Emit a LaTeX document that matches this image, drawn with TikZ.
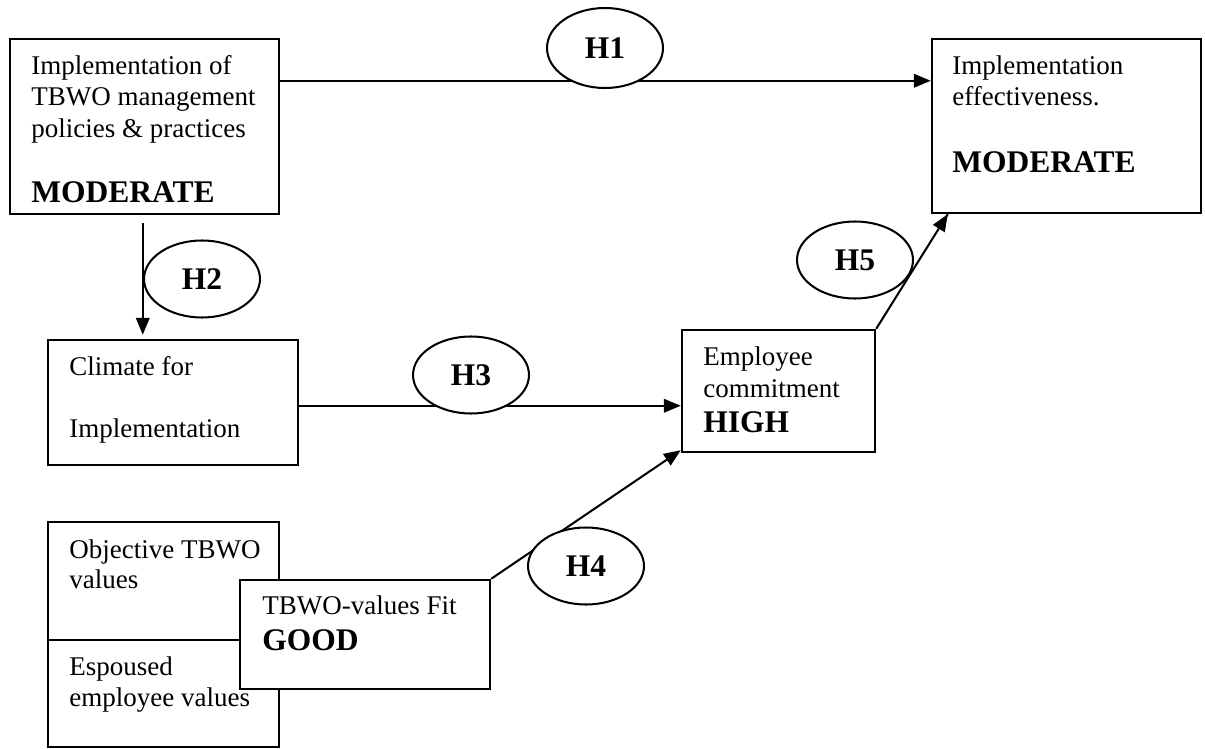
\documentclass[tikz,border=0pt]{standalone}
\usepackage{fontspec}
\setmainfont{Liberation Serif}
\usetikzlibrary{arrows.meta,shapes.geometric,fit,calc}
\newlength\pxu
\setlength\pxu{0.4444pt}
\begin{document}
\begin{tikzpicture}[x=0.4444pt,y=-0.4444pt,
  box/.style={draw, line width=1.1pt, fill=white, inner sep=0pt},
  txt/.style={anchor=base west, inner sep=0pt,
    font=\fontsize{12pt}{14pt}\selectfont},
  big/.style={anchor=base west, inner sep=0pt,
    font=\fontsize{14pt}{16pt}\selectfont\bfseries},
  hyp/.style={ellipse, draw, line width=0.9pt, fill=white, inner sep=0pt,
    minimum width=116*\pxu, minimum height=77*\pxu,
    font=\fontsize{14pt}{16pt}\selectfont\bfseries},
  arr/.style={line width=0.9pt, -{Triangle[length=7.5pt,width=6pt]}},
  link/.style={line width=0.9pt}]
\useasboundingbox (0,0) rectangle (1205,749);

% boxes
\node[box, fit={(10,39) (279,214)}] (policy) {};
\node[box, fit={(932,39) (1201,213)}] (effect) {};
\node[box, fit={(48,340) (298,465)}] (climate) {};
\node[box, fit={(682,330) (875,452)}] (commit) {};
\node[box, fit={(48,522) (279,640)}] (objective) {};
\node[box, fit={(48,640) (279,747)}] (espoused) {};
\node[box, fit={(240,580) (490,689)}] (fitbox) {};

% box texts, one node per line
\node[txt] (policyA) at (31,74) {Implementation of};
\node[txt] (policyB) at (31,105.5) {TBWO management};
\node[txt] (policyC) at (31,137) {policies \& practices};
\node[big] (policyL) at (31,202) {MODERATE};
\node[txt] (effectA) at (952,74) {Implementation};
\node[txt] (effectB) at (952,105.5) {effectiveness.};
\node[big] (effectL) at (952,172) {MODERATE};
\node[txt] (climateA) at (69,375) {Climate for};
\node[txt] (climateB) at (69,437) {Implementation};
\node[txt] (commitA) at (703,365) {Employee};
\node[txt] (commitB) at (703,397) {commitment};
\node[big] (commitL) at (703,432) {HIGH};
\node[txt] (objectiveA) at (69,558) {Objective TBWO};
\node[txt] (objectiveB) at (69,588) {values};
\node[txt] (espousedA) at (69,675) {Espoused};
\node[txt] (espousedB) at (69,706) {employee values};
\node[txt] (fitA) at (262,614) {TBWO-values Fit};
\node[big] (fitL) at (262,650) {GOOD};

% connectors
\draw[arr] ($(policy.north east)+(0,43)$) -- ($(effect.north west)+(0,43)$);
\draw[arr] ($(policy.south west)+(134,8)$) -- ($(climate.north west)+(96,-4)$);
\draw[arr] ($(climate.north east)+(0,67)$) -- ($(commit.north west)+(0,77)$);
\draw[arr] (fitbox.north east) -- ($(commit.south west)+(0,-3)$);
\draw[link] (commit.north east) -- ($(effect.south west)+(17,0)$);
\draw[arr] ($(commit.north east)!0.92!($(effect.south west)+(17,0)$)$) -- ($(effect.south west)+(17,0)$);

% hypothesis labels
\node[hyp, minimum height=80*\pxu] (h1) at (605,48) {H1};
\node[hyp] (h2) at (202,279) {H2};
\node[hyp] (h3) at (471,375) {H3};
\node[hyp] (h4) at (586,566) {H4};
\node[hyp] (h5) at (855,260) {H5};
\end{tikzpicture}
\end{document}
